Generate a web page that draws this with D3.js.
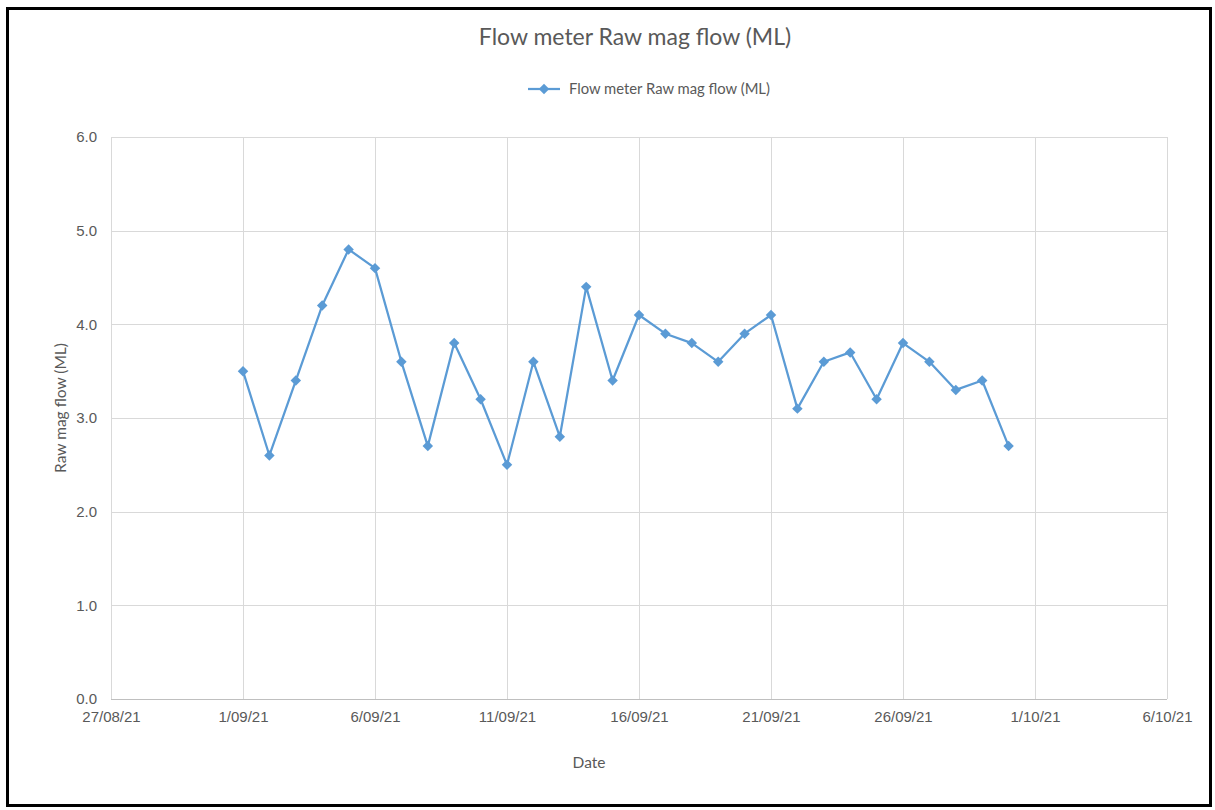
<!DOCTYPE html>
<html>
<head>
<meta charset="utf-8">
<script src="https://cdn.jsdelivr.net/npm/d3@7"></script>
<style>
  html, body { margin: 0; padding: 0; background: #fff; }
  svg { display: block; font-family: Lato, "Open Sans", sans-serif; }
</style>
</head>
<body>
<svg id="chart" width="1215" height="810"></svg>
<script>
// Daily raw magnetic flow readings, September 2021
const dates = [
  "2021-09-01","2021-09-02","2021-09-03","2021-09-04","2021-09-05",
  "2021-09-06","2021-09-07","2021-09-08","2021-09-09","2021-09-10",
  "2021-09-11","2021-09-12","2021-09-13","2021-09-14","2021-09-15",
  "2021-09-16","2021-09-17","2021-09-18","2021-09-19","2021-09-20",
  "2021-09-21","2021-09-22","2021-09-23","2021-09-24","2021-09-25",
  "2021-09-26","2021-09-27","2021-09-28","2021-09-29","2021-09-30"
];
const flowML = [
  3.5, 2.6, 3.4, 4.2, 4.8, 4.6, 3.6, 2.7, 3.8, 3.2,
  2.5, 3.6, 2.8, 4.4, 3.4, 4.1, 3.9, 3.8, 3.6, 3.9,
  4.1, 3.1, 3.6, 3.7, 3.2, 3.8, 3.6, 3.3, 3.4, 2.7
];
const xTickDates = ["2021-08-27","2021-09-01","2021-09-06","2021-09-11","2021-09-16",
                    "2021-09-21","2021-09-26","2021-10-01","2021-10-06"];
const yTicks = [0, 1, 2, 3, 4, 5, 6];

const seriesName = "Flow meter Raw mag flow (ML)";
const chartTitle = "Flow meter Raw mag flow (ML)";
const xTitle = "Date";
const yTitle = "Raw mag flow (ML)";

const parse = d3.timeParse("%Y-%m-%d");
const fmt = d => `${d.getDate()}/${d3.timeFormat("%m/%y")(d)}`;
const data = dates.map((d, i) => ({ date: parse(d), value: flowML[i] }));

const svg = d3.select("#chart");
const textColor = "#595959";
const lineColor = "#5B9BD5";
const gridColor = "#D9D9D9";

// Outer frame
svg.append("rect")
  .attr("x", 7.5).attr("y", 8.5).attr("width", 1203).attr("height", 797)
  .attr("fill", "#fff").attr("stroke", "#000").attr("stroke-width", 3);

const plot = { left: 111, right: 1167, top: 137, bottom: 699 };

const x = d3.scaleTime()
  .domain([parse(xTickDates[0]), parse(xTickDates[xTickDates.length - 1])])
  .range([plot.left, plot.right]);
const y = d3.scaleLinear().domain([0, 6]).range([plot.bottom, plot.top]);

// Horizontal gridlines
const yAxis = d3.axisLeft(y)
  .tickValues(yTicks)
  .tickSize(-(plot.right - plot.left))
  .tickPadding(14)
  .tickFormat(d3.format(".1f"));
const gy = svg.append("g").attr("transform", `translate(${plot.left},0)`).call(yAxis);
gy.select(".domain").remove();
gy.selectAll(".tick line").attr("stroke", gridColor).attr("stroke-width", 1)
  .attr("shape-rendering", "crispEdges");
gy.selectAll(".tick text").attr("fill", textColor).attr("font-size", 15);

// Vertical gridlines and date labels
const xAxis = d3.axisBottom(x)
  .tickValues(xTickDates.map(parse))
  .tickSize(-(plot.bottom - plot.top))
  .tickPadding(12)
  .tickFormat(fmt);
const gx = svg.append("g").attr("transform", `translate(0,${plot.bottom})`).call(xAxis);
gx.select(".domain").remove();
gx.selectAll(".tick line").attr("stroke", gridColor).attr("stroke-width", 1)
  .attr("shape-rendering", "crispEdges");
gx.selectAll(".tick text").attr("fill", textColor).attr("font-size", 15);

// Baseline
svg.append("line")
  .attr("x1", plot.left).attr("x2", plot.right)
  .attr("y1", y(0)).attr("y2", y(0))
  .attr("stroke", "#BFBFBF").attr("stroke-width", 1)
  .attr("shape-rendering", "crispEdges");

// Series line
const line = d3.line().x(d => x(d.date)).y(d => y(d.value));
svg.append("path").datum(data)
  .attr("d", line)
  .attr("fill", "none")
  .attr("stroke", lineColor)
  .attr("stroke-width", 2.25)
  .attr("stroke-linejoin", "round");

// Diamond markers
const diamond = d3.symbol().type(d3.symbolDiamond2).size(70);
svg.append("g").selectAll("path").data(data).join("path")
  .attr("d", diamond)
  .attr("transform", d => `translate(${x(d.date)},${y(d.value)})`)
  .attr("fill", lineColor);

// Title
svg.append("text")
  .attr("x", 635).attr("y", 45)
  .attr("text-anchor", "middle")
  .attr("fill", textColor)
  .attr("font-size", 23)
  .text(chartTitle);

// Legend
const lg = svg.append("g").attr("transform", "translate(528,89)");
lg.append("line").attr("x1", 0).attr("x2", 32).attr("y1", 0).attr("y2", 0)
  .attr("stroke", lineColor).attr("stroke-width", 2.25);
lg.append("path").attr("d", diamond).attr("transform", "translate(16,0)").attr("fill", lineColor);
lg.append("text").attr("x", 41).attr("y", 0).attr("dy", "0.35em")
  .attr("fill", textColor).attr("font-size", 14.8)
  .text(seriesName);

// Axis titles
svg.append("text")
  .attr("x", 589).attr("y", 763).attr("dy", "0.35em")
  .attr("text-anchor", "middle")
  .attr("fill", textColor).attr("font-size", 15.5)
  .text(xTitle);
svg.append("text")
  .attr("transform", "translate(61,408) rotate(-90)")
  .attr("dy", "0.35em")
  .attr("text-anchor", "middle")
  .attr("fill", textColor).attr("font-size", 15.5)
  .text(yTitle);
</script>
</body>
</html>
